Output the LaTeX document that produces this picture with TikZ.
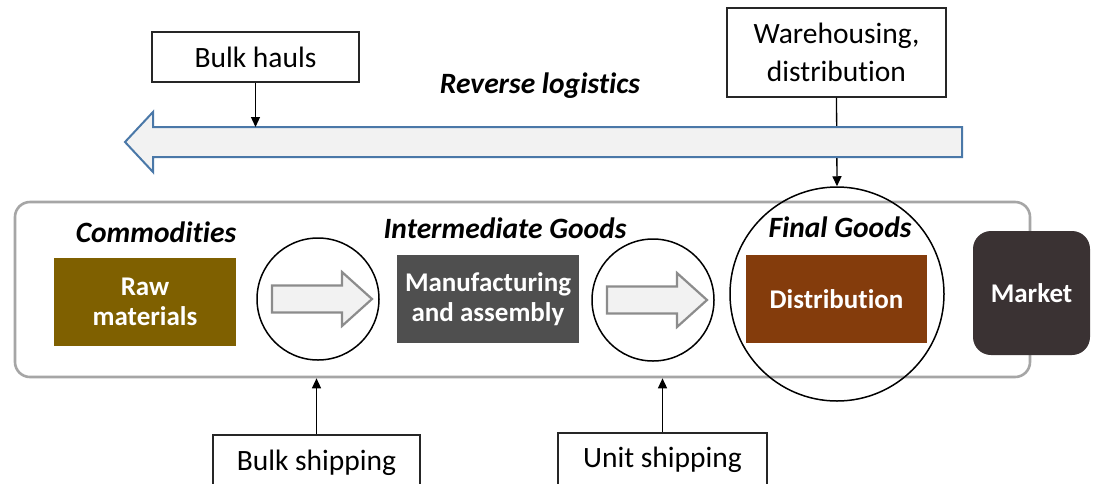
\documentclass[tikz,border=0pt]{standalone}
\usepackage{fontspec}
\setmainfont{Carlito}[Ligatures={NoCommon}]
\usetikzlibrary{arrows.meta}
\definecolor{rawc}{HTML}{7F6000}
\definecolor{manc}{HTML}{4F4F4F}
\definecolor{disc}{HTML}{843C0C}
\definecolor{mktc}{HTML}{3A3233}
\definecolor{contc}{HTML}{A6A6A6}
\definecolor{revedge}{HTML}{4A78A8}
\definecolor{arrfill}{HTML}{F2F2F2}
\definecolor{smalledge}{HTML}{8C8C8C}
\begin{document}
\begin{tikzpicture}[x=1pt,y=-1pt,
  labelbox/.style={draw=black!85,line width=1.1pt,fill=white,inner sep=0pt,
    font=\fontsize{29.5}{38}\selectfont,align=center},
  heading/.style={font=\fontsize{29.5}{34}\selectfont\bfseries\itshape,anchor=base,inner sep=0pt},
  stagebox/.style={inner sep=0pt,text=white,align=center,
    font=\fontsize{27}{30}\selectfont\bfseries,minimum width=182pt,minimum height=88pt},
  ring/.style={draw=black,line width=1.5pt,circle,inner sep=0pt},
  conn/.style={line width=1.3pt,-{Triangle[length=10pt,width=9pt]}},
  blockarrow/.style={draw=smalledge,line width=2.2pt,fill=arrfill,line join=miter}
]
\clip (0,0) rectangle (1094,483);
\fill[white] (0,0) rectangle (1094,483);

% container
\node[draw=contc,line width=2.6pt,rounded corners=15pt,minimum width=1015pt,minimum height=175pt,inner sep=0pt]
  (cont) at (522.5,289.5) {};

% top label boxes
\node[labelbox,minimum width=207pt,minimum height=50pt] (bulkhauls) at (255.5,57) {Bulk hauls};
\node[labelbox,minimum width=219pt,minimum height=89pt] (wh) at (836.5,52.5) {Warehousing,\\distribution};

% final goods circle
\node[ring,minimum size=214pt] (fgc) at (837,294) {};

% connector warehousing -> final goods (behind reverse arrow)
\draw[conn] (wh.south) -- (fgc.north);

% reverse logistics arrow
\coordinate (revR) at (962,127);
\coordinate (revL) at (153,127);
\draw[draw=revedge,line width=2pt,fill=arrfill,line join=miter]
  (962,127) -- (153,127) -- (153,112) -- (125,142) -- (153,172) -- (153,157) -- (962,157) -- cycle;
\draw[conn] (bulkhauls.south) -- (bulkhauls.south |- revL);
\node[heading] (revlab) at (540,93) {Reverse logistics};

% headings
\node[heading] (commod) at (156,242) {Commodities};
\node[heading] (inter) at (505,238) {Intermediate Goods};
\node[heading] (final) at (840,237) {Final Goods};

% stage boxes
\node[stagebox,fill=rawc] (raw) at (145,302) {Raw\\materials};
\node[stagebox,fill=manc] (man) at (488,299) {Manufacturing\\and assembly};
\node[stagebox,fill=disc,minimum width=181pt] (dist) at (836.5,299) {Distribution};
\node[fill=mktc,rounded corners=18pt,minimum width=117pt,minimum height=124pt,inner sep=0pt,
  text=white,font=\fontsize{27}{30}\selectfont\bfseries] (mkt) at (1031.5,293) {Market};

% transport circles with block arrows
\node[ring,minimum size=122pt] (c1) at (318,299) {};
\node[ring,minimum size=122pt] (c2) at (653,300) {};
\foreach \c in {c1,c2}{
  \draw[blockarrow] ([shift={(-46,-13.5)}]\c.center) -- ([shift={(24,-13.5)}]\c.center)
    -- ([shift={(24,-27)}]\c.center) -- ([shift={(54,0)}]\c.center)
    -- ([shift={(24,27)}]\c.center) -- ([shift={(24,13.5)}]\c.center)
    -- ([shift={(-46,13.5)}]\c.center) -- cycle;
}

% bottom label boxes
\node[labelbox,minimum width=207pt,minimum height=76pt] (bship) at (316.5,473) {};
\node[labelbox,minimum width=209pt,minimum height=76pt] (uship) at (662.5,471) {};
\node[anchor=base,inner sep=0pt,font=\fontsize{29.5}{38}\selectfont] (bshipt) at (316.5,470) {Bulk shipping};
\node[anchor=base,inner sep=0pt,font=\fontsize{29.5}{38}\selectfont] (ushipt) at (662.5,467) {Unit shipping};
\draw[conn] (bship.north) -- (bship.north |- cont.south);
\draw[conn] (uship.north) -- (uship.north |- cont.south);
\end{tikzpicture}
\end{document}
